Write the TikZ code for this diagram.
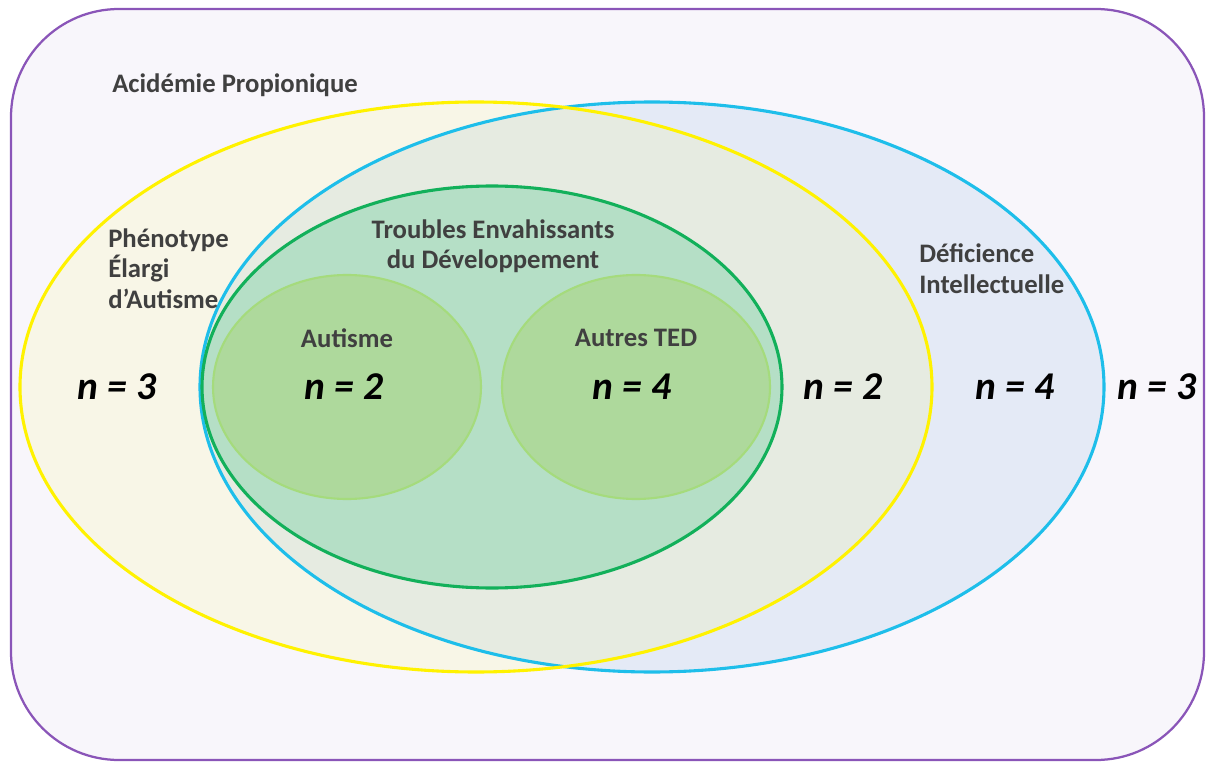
\documentclass[tikz,border=0pt]{standalone}
\usepackage{fontspec}
\setmainfont{Carlito}
\usetikzlibrary{positioning}
\definecolor{bgpurple}{HTML}{F8F6FB}
\definecolor{linepurple}{HTML}{8A55B8}
\definecolor{pheno}{HTML}{F8F6E7}
\definecolor{phenoline}{HTML}{FFF200}
\definecolor{defi}{HTML}{E4EAF6}
\definecolor{defiline}{HTML}{1EBEEA}
\definecolor{both}{HTML}{E6EBE1}
\definecolor{ted}{HTML}{B5DFC6}
\definecolor{tedline}{HTML}{12B05A}
\definecolor{sub}{HTML}{AED99C}
\definecolor{subline}{HTML}{A5DB7C}
\definecolor{txt}{HTML}{404040}
\tikzset{%
    lbl/.style={inner sep=0pt,text=txt,font=\fontsize{19}{22}\selectfont\bfseries},
    cnt/.style={inner sep=0pt,text=black,font=\fontsize{28}{30}\selectfont\bfseries\itshape}
}

\begin{document}
\begin{tikzpicture}[
        x=0.025cm,y=-0.025cm,
        ring/.style={line width=2.2pt}
        ]
        \useasboundingbox (0,0) rectangle (1206,762);

        % outer set
        \draw[line width=1.6pt,draw=linepurple,fill=bgpurple,rounded corners=2.7cm]
            (11,9) rectangle (1204,760);

        % fills
        \fill[pheno] (476,387) ellipse [x radius=456,y radius=285];
        \fill[defi] (652,387) ellipse [x radius=452,y radius=285];
        \begin{scope}
            \clip (476,387) ellipse [x radius=456,y radius=285];
            \fill[both] (652,387) ellipse [x radius=452,y radius=285];
        \end{scope}
        \fill[ted] (492,387) ellipse [x radius=290,y radius=201];
        \draw[line width=1.5pt,draw=subline,fill=sub] (347,387) ellipse [x radius=134,y radius=112];
        \draw[line width=1.5pt,draw=subline,fill=sub] (636,387) ellipse [x radius=134,y radius=112];

        % outlines
        \draw[ring,defiline] (652,387) ellipse [x radius=452,y radius=285];
        \draw[ring,phenoline] (476,387) ellipse [x radius=456,y radius=285];
        \draw[ring,tedline] (492,387) ellipse [x radius=290,y radius=201];

        % labels
        \node[lbl,anchor=west] (ap) at (112,85) {Acidémie Propionique};
        \node[lbl,anchor=north west,align=left] (pea) at (108,228) {Phénotype\\Élargi\\d’Autisme};
        \node[lbl,anchor=north,align=center] (tedl) at (493,219) {Troubles Envahissants\\du Développement};
        \node[lbl,anchor=north west,align=left] (di) at (919,243) {Déficience\\Intellectuelle};
        \node[lbl] (aut) at (347,338) {Autisme};
        \node[lbl] (autres) at (636,338) {Autres TED};

        % counts
        \node[cnt] (n1) at (117,387) {n = 3};
        \node[cnt] (n2) at (344,387) {n = 2};
        \node[cnt] (n3) at (632,387) {n = 4};
        \node[cnt] (n4) at (843,387) {n = 2};
        \node[cnt] (n5) at (1015,387) {n = 4};
        \node[cnt] (n6) at (1157,387) {n = 3};
    \end{tikzpicture}
\end{document}
